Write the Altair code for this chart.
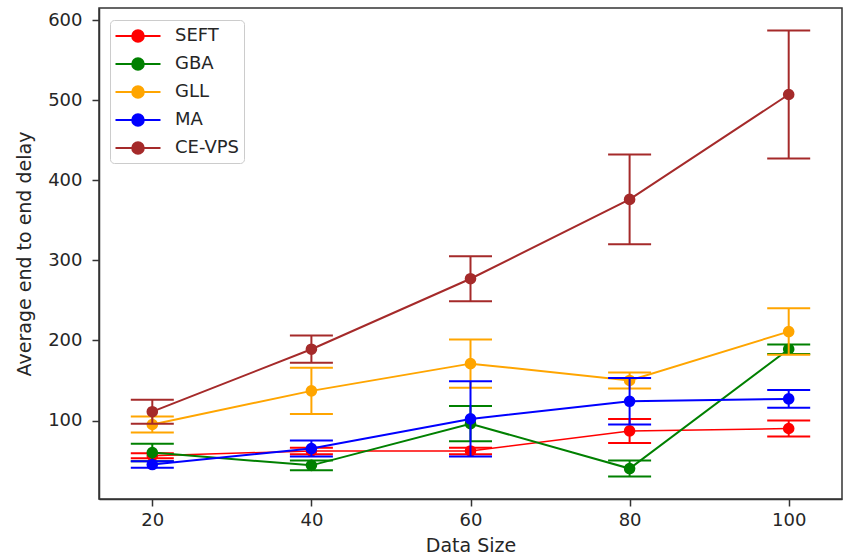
import altair as alt
import pandas as pd

sizes = [20, 40, 60, 80, 100]
series = ["SEFT", "GBA", "GLL", "MA", "CE-VPS"]
colors = ["#ff0000", "#008000", "#ffa500", "#0000ff", "#a52a2a"]

seft = [56, 62, 62, 87, 90]
seft_err = [3, 4, 4, 15, 10]
gba = [60, 44, 96, 40, 189]
gba_err = [11, 6, 22, 10, 6]
gll = [95, 137, 171, 150, 211]
gll_err = [10, 29, 30, 10, 29]
ma = [45, 65, 102, 124, 127]
ma_err = [4, 10, 47, 29, 11]
cevps = [111, 189, 277, 376, 507]
cevps_err = [15, 17, 28, 56, 80]
y_ticks = [100, 200, 300, 400, 500, 600]

values = {"SEFT": seft, "GBA": gba, "GLL": gll, "MA": ma, "CE-VPS": cevps}
errors = {"SEFT": seft_err, "GBA": gba_err, "GLL": gll_err, "MA": ma_err, "CE-VPS": cevps_err}
line_widths = {"SEFT": 1.5, "GBA": 2, "GLL": 2, "MA": 2, "CE-VPS": 2}

FONT = "DejaVu Sans"
x_scale = alt.Scale(domain=[13.3, 106.7], nice=False, zero=False)
y_scale = alt.Scale(domain=[2, 615], nice=False, zero=False)
color_scale = alt.Scale(domain=series, range=colors)

x_axis = alt.Axis(values=sizes, title="Data Size", labelPadding=5, titlePadding=7, format="d")
y_axis = alt.Axis(values=y_ticks, title="Average end to end delay",
                  labelPadding=10, titlePadding=13, format="d")

# legend symbol: horizontal line with a filled-looking circle (concentric rings)
path = "M-2.25,0L2.25,0"
for r in [0.08, 0.22, 0.36, 0.5, 0.58]:
    path += f"M{-r},0A{r},{r},0,1,0,{r},0A{r},{r},0,1,0,{-r},0"

legend = alt.Legend(orient="none", legendX=11, legendY=12, title=None,
                    symbolType=path, symbolSize=400, symbolStrokeWidth=2,
                    symbolOffset=12, labelOffset=26, rowPadding=7,
                    labelExpr="datum.label + '\u00a0\u00a0\u00a0'")

layers = []
for name in series:
    df = pd.DataFrame({"size": sizes, "delay": values[name], "err": errors[name]})
    df["series"] = name
    df["lo"] = df["delay"] - df["err"]
    df["hi"] = df["delay"] + df["err"]
    base = alt.Chart(df)
    x = alt.X("size:Q", scale=x_scale, axis=x_axis)
    color_leg = alt.Color("series:N", scale=color_scale, legend=legend)
    color_none = alt.Color("series:N", scale=color_scale, legend=None)
    line = base.mark_line(strokeWidth=line_widths[name]).encode(
        x=x, y=alt.Y("delay:Q", scale=y_scale, axis=y_axis), color=color_leg)
    rule = base.mark_rule(strokeWidth=2).encode(
        x=x, y=alt.Y("lo:Q", scale=y_scale, axis=y_axis), y2="hi:Q", color=color_none)
    cap_hi = base.mark_tick(orient="horizontal", size=43, thickness=2, opacity=1).encode(
        x=x, y=alt.Y("hi:Q", scale=y_scale, axis=y_axis), color=color_none)
    cap_lo = base.mark_tick(orient="horizontal", size=43, thickness=2, opacity=1).encode(
        x=x, y=alt.Y("lo:Q", scale=y_scale, axis=y_axis), color=color_none)
    pts = base.mark_circle(size=135, opacity=1).encode(
        x=x, y=alt.Y("delay:Q", scale=y_scale, axis=y_axis), color=color_none)
    layers += [line, rule, cap_hi, cap_lo, pts]

chart = alt.layer(*layers).properties(
    width=743, height=491,
    autosize=alt.AutoSizeParams(type="none"),
    padding={"left": 99, "top": 8, "right": 3, "bottom": 60},
    background="white",
).configure_view(
    stroke="#333333", strokeWidth=1.5
).configure_axis(
    grid=False, labelFont=FONT, titleFont=FONT, labelFontSize=18, titleFontSize=19,
    titleFontWeight="normal", labelColor="#262626", titleColor="#262626",
    domainColor="#333333", tickColor="#333333", domainWidth=1.5, tickWidth=1.5, tickSize=7,
).configure_legend(
    labelFont=FONT, labelFontSize=18, labelColor="#262626", padding=5,
    fillColor="white", strokeColor="#cccccc", cornerRadius=4,
)

chart.save("out.html", embed_options={"renderer": "svg", "actions": False})
